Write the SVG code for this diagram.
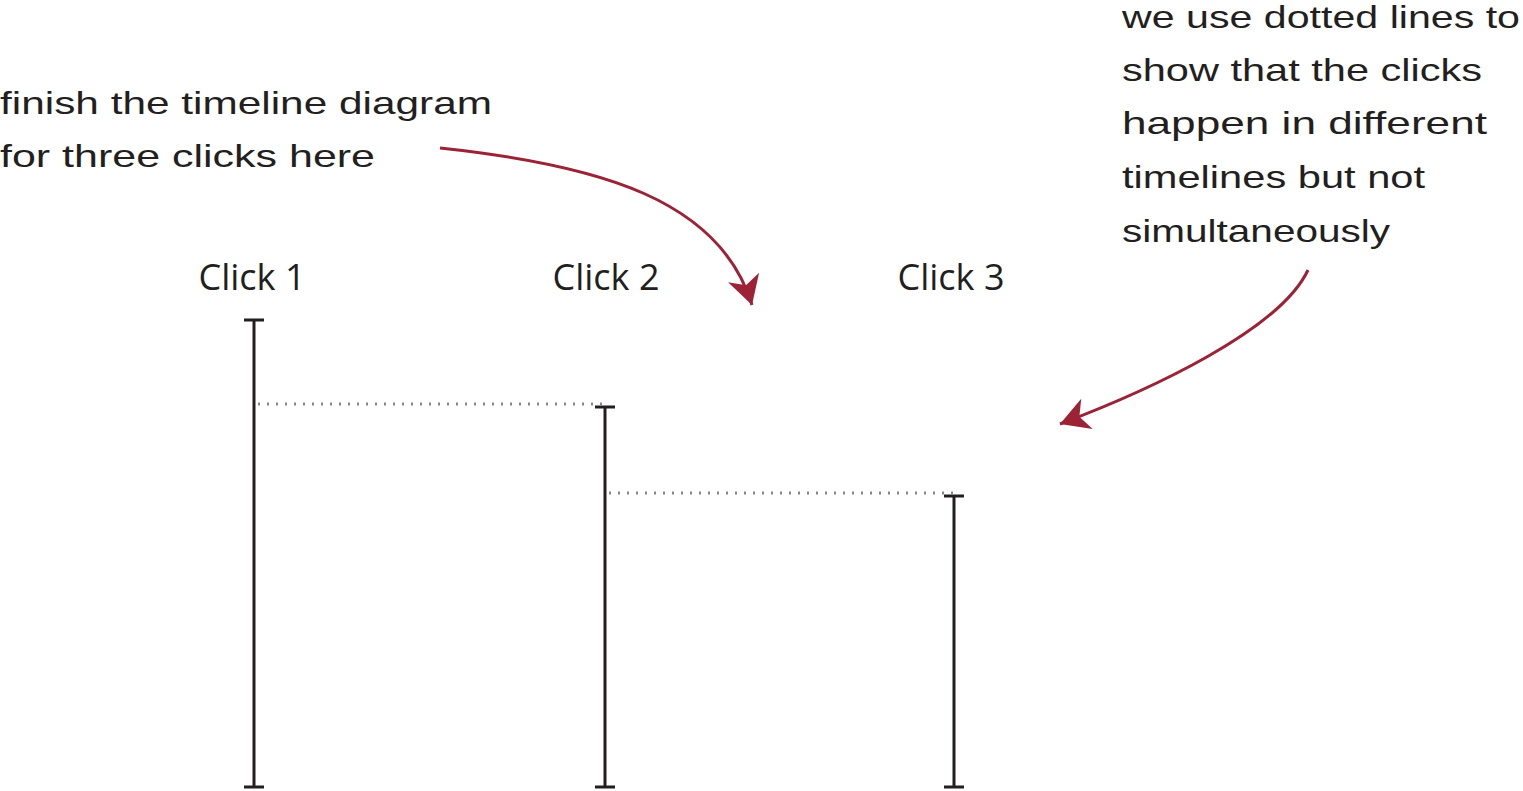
<svg xmlns="http://www.w3.org/2000/svg" width="1523" height="791" viewBox="0 0 1523 791">
<style>
.tl{stroke:#231f20;stroke-width:3;fill:none}
.dot{stroke:#888;stroke-width:3;stroke-dasharray:2 7;fill:none}
.arr{stroke:#9b2335;stroke-width:3;fill:none}
.note{font-family:"Liberation Sans",sans-serif;font-size:32px;fill:#231f20}
.lbl{font-family:"Open Sans",sans-serif;font-size:36px;fill:#231f20}
</style>
<defs>
<marker id="ah" viewBox="0 0 10 10" refX="8" refY="5" markerWidth="9" markerHeight="9" markerUnits="userSpaceOnUse" orient="auto" style="overflow:visible"><path d="M-24,-13 L8,5 L-24,23 L-15,5 Z" fill="#9b2335"/></marker>
</defs>
<g id="click1"><text class="lbl" x="252" y="290" text-anchor="middle">Click 1</text><path class="tl" d="M254,320V787M244,320H264M244,787H264"/></g>
<g id="click2"><text class="lbl" x="606" y="290" text-anchor="middle">Click 2</text><path class="tl" d="M605,407V787M595,407H615M595,787H615"/></g>
<g id="click3"><text class="lbl" x="951" y="290" text-anchor="middle">Click 3</text><path class="tl" d="M954,496V787M944,496H964M944,787H964"/></g>
<g id="note1"><text class="note" x="0" y="114" textLength="492" lengthAdjust="spacingAndGlyphs">finish the timeline diagram</text><text class="note" x="0" y="167" textLength="375" lengthAdjust="spacingAndGlyphs">for three clicks here</text></g>
<g id="note2"><text class="note" x="1122" y="28" textLength="398" lengthAdjust="spacingAndGlyphs">we use dotted lines to</text><text class="note" x="1122" y="81" textLength="360" lengthAdjust="spacingAndGlyphs">show that the clicks</text><text class="note" x="1122" y="134" textLength="365" lengthAdjust="spacingAndGlyphs">happen in different</text><text class="note" x="1122" y="188" textLength="303" lengthAdjust="spacingAndGlyphs">timelines but not</text><text class="note" x="1122" y="242" textLength="268" lengthAdjust="spacingAndGlyphs">simultaneously</text></g>
<g id="connectors">
<path class="dot" d="M258,404H605"/>
<path class="dot" d="M609,493H954"/>
<path class="arr" d="M440,148 C600,165 720,200 752,305" marker-end="url(#ah)"/>
<path class="arr" d="M1308,270 C1280,330 1150,390 1060,424" marker-end="url(#ah)"/>
</g>
</svg>
